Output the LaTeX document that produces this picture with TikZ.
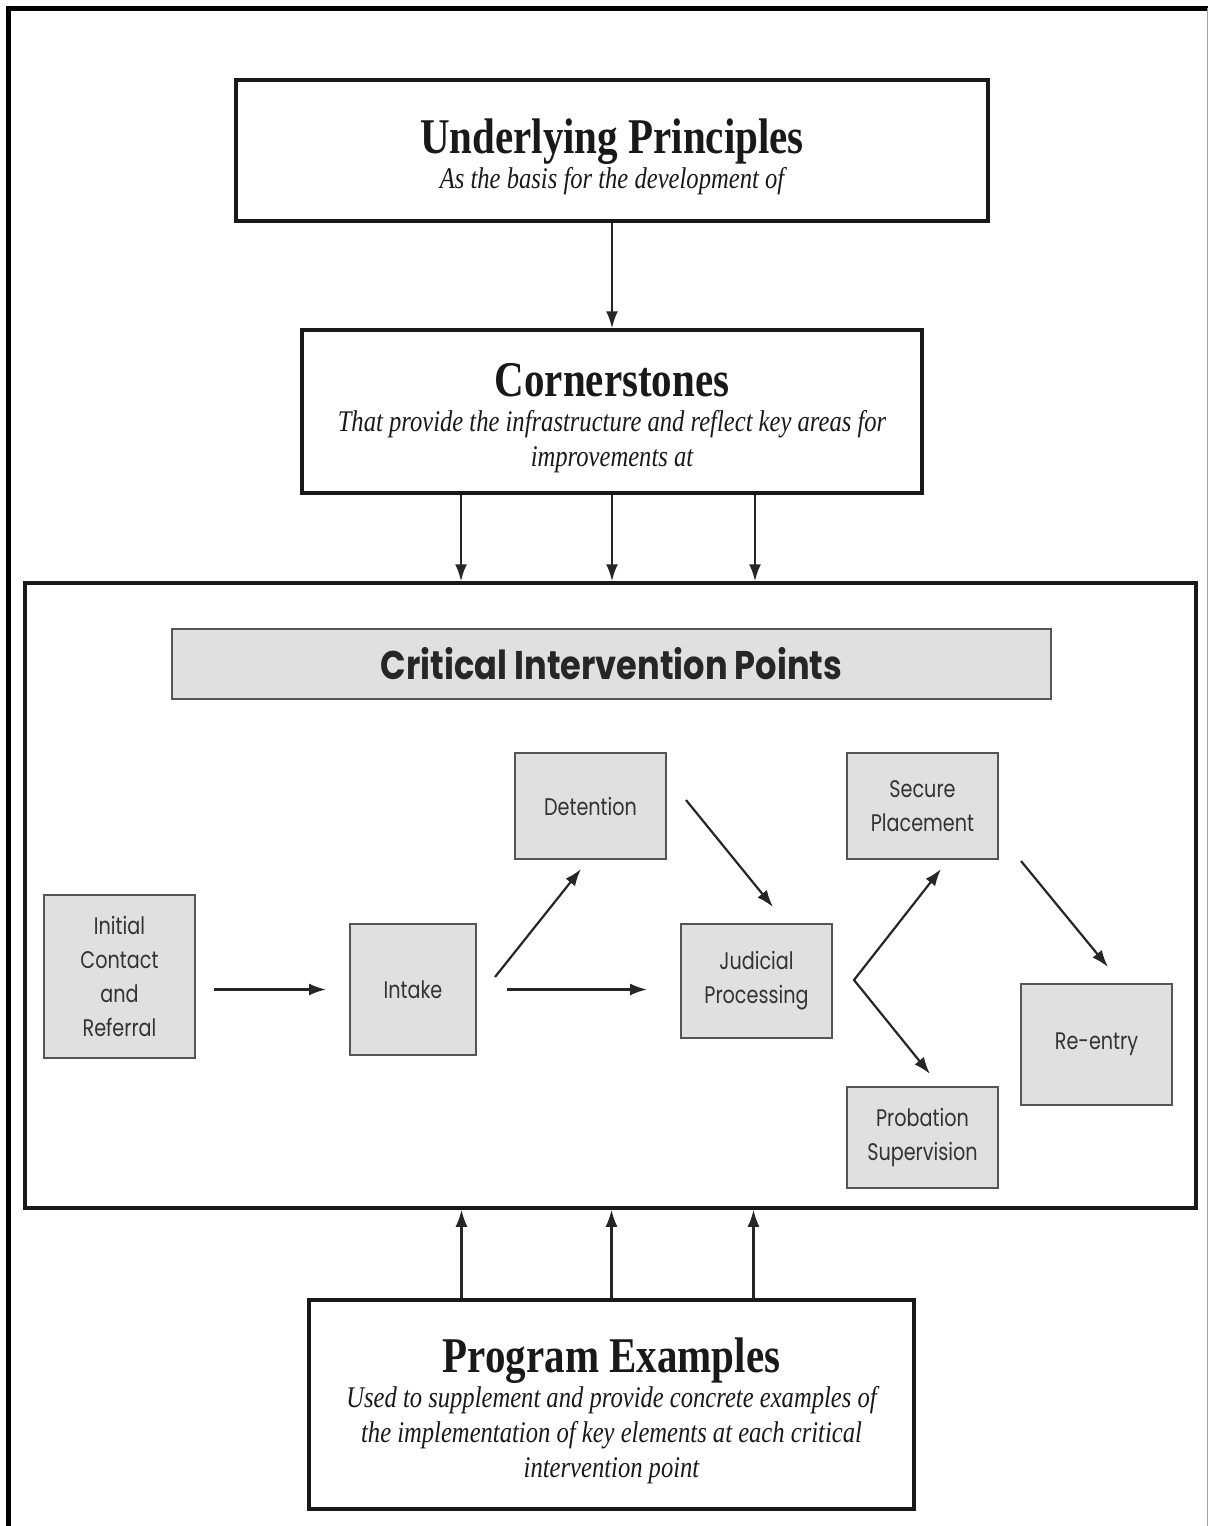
\documentclass[tikz,border=0pt]{standalone}
\usepackage{fontspec}
\usetikzlibrary{arrows.meta}
\newfontfamily\headfont[FakeStretch=0.82]{Liberation Serif}
\newfontfamily\boxfont[FakeStretch=0.8]{Poppins}
\newfontfamily\barfont[FakeStretch=0.84]{Poppins}
\definecolor{boxgray}{HTML}{E0E0E0}
\definecolor{edgegray}{HTML}{555555}
\definecolor{inkgray}{HTML}{333333}
\newcommand\boxtitle[1]{{\upshape\bfseries\fontsize{50}{50}\selectfont\rule{0pt}{47pt}#1}}

\begin{document}
\begin{tikzpicture}[x=1pt, y=-1pt,
        bigbox/.style={draw=black!90, line width=3.5pt, align=center, inner sep=0pt,
            text=black!90, font=\headfont\itshape\fontsize{30}{35}\selectfont},
        stage/.style={draw=edgegray, fill=boxgray, line width=2pt, align=center,
            minimum width=151pt, inner sep=0pt, text=inkgray,
            font=\boxfont\fontsize{24}{34}\selectfont},
        tip/.tip={Latex[length=17pt,width=12pt]},
        arr/.style={-tip, line width=2.2pt, draw=black!85}]
    \useasboundingbox (0,0) rectangle (1208,1526);

    % Page frame
    \draw[line width=5pt] (8,1526) -- (8,8) -- (1208,8);
    \draw[black!35, line width=1pt] (1207,8) -- (1207,1526);

    % Top blocks
    \node[bigbox, minimum width=752pt, minimum height=141pt] (princ) at (612,150.5)
        {\boxtitle{Underlying Principles}\\[0pt]As the basis for the development of};
    \node[bigbox, minimum width=620pt, minimum height=163pt] (corner) at (612,411.5)
        {\boxtitle{Cornerstones}\\[0pt]That provide the infrastructure and reflect key areas for\\improvements at};

    % Critical intervention points
    \node[draw=black!90, line width=3.5pt, minimum width=1171pt, minimum height=625pt] (cip) at (610.5,895.5) {};
    \node[draw=edgegray, fill=boxgray, line width=2pt, minimum width=879pt, minimum height=70pt,
        text=black!85, font=\barfont\bfseries\fontsize{40}{40}\selectfont] (cipbar) at (611.5,664)
        {Critical Intervention Points};

    \node[stage, minimum height=163pt] (initial) at (119.5,976.5) {Initial\\Contact\\and\\Referral};
    \node[stage, minimum width=126pt, minimum height=131pt] (intake) at (413,989.5) {Intake};
    \node[stage, minimum height=106pt] (detention) at (590.5,806) {Detention};
    \node[stage, minimum height=114pt] (judicial) at (756.5,981) {Judicial\\Processing};
    \node[stage, minimum height=106pt] (secure) at (922.5,806) {Secure\\Placement};
    \node[stage, minimum height=101pt] (probation) at (922.5,1137.5) {Probation\\Supervision};
    \node[stage, minimum height=121pt] (reentry) at (1096.5,1044.5) {Re-entry};

    % Bottom block
    \node[bigbox, minimum width=605pt, minimum height=209pt] (examples) at (611.5,1404.5)
        {\boxtitle{Program Examples}\\[0pt]Used to supplement and provide concrete examples of\\the implementation of key elements at each critical\\intervention point};

    % Connectors
    \draw[arr] (princ) -- (corner);
    \foreach \dx in {-151,0,143}
        \draw[arr] ([xshift=\dx]corner.south) -- ([xshift=\dx]corner.south |- cip.north);
    \foreach \dx in {-150,0,142}
        \draw[arr] ([xshift=\dx]examples.north) -- ([xshift=\dx]examples.north |- cip.south);

    \draw[arr, shorten <=18pt, shorten >=23pt] (initial.east |- intake) -- (intake.west);
    \draw[arr] ([shift={(18,-12.5)}]intake.east) -- ([shift={(-9.5,9)}]detention.south);
    \draw[arr, shorten <=30pt, shorten >=33pt] (intake.east) -- (intake.east -| judicial.west);
    \draw[arr] ([shift={(19,-6)}]detention.east) -- ([shift={(16.5,-16)}]judicial.north);
    \draw[arr, tip-tip]
        ([shift={(18.5,9)}]secure.south) -- ([shift={(21,-1)}]judicial.east)
        -- ([shift={(7.5,-12)}]probation.north);
    \draw[arr] ([shift={(22,1)}]secure.south east) -- ([shift={(11.5,-16)}]reentry.north);
\end{tikzpicture}
\end{document}
